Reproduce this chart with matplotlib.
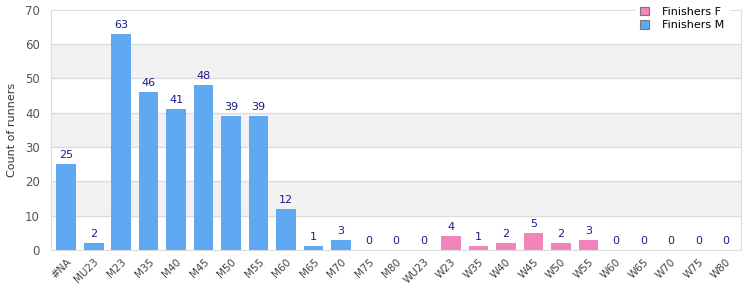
import matplotlib.pyplot as plt
import numpy as np

categories = ["#NA", "MU23", "M23", "M35", "M40", "M45", "M50", "M55", "M60", "M65",
              "M70", "M75", "M80", "WU23", "W23", "W35", "W40", "W45", "W50", "W55",
              "W60", "W65", "W70", "W75", "W80"]
finishers_m = [25, 2, 63, 46, 41, 48, 39, 39, 12, 1, 3, 0, 0, 0,
               0, 0, 0, 0, 0, 0, 0, 0, 0, 0, 0]
finishers_f = [0, 0, 0, 0, 0, 0, 0, 0, 0, 0, 0, 0, 0, 0,
               4, 1, 2, 5, 2, 3, 0, 0, 0, 0, 0]

BLUE = "#5fa8f2"
PINK = "#f184ba"
GRID = "#dcdcdc"

fig = plt.figure(figsize=(7.5, 3), dpi=100)
ax = fig.add_axes([0.068, 0.167, 0.92, 0.8])

x = np.arange(len(categories))
m = np.array(finishers_m)
f = np.array(finishers_f)

# alternating bands
for lo in range(10, 70, 20):
    ax.axhspan(lo, lo + 10, color="#f2f2f2", zorder=0, lw=0)
for yv in range(10, 70, 10):
    ax.axhline(yv, color=GRID, lw=1, zorder=0.5)

ax.bar(x, m, 0.72, color=BLUE, label="Finishers M", zorder=2)
ax.bar(x, f, 0.72, bottom=m, color=PINK, label="Finishers F", zorder=2)

total = m + f
for xi, t in zip(x, total):
    ax.text(xi, t + 1.2, str(t), ha="center", va="bottom", fontsize=8, color="#1c1c8a")

ax.set_xlim(-0.55, len(categories) - 0.45)
ax.set_ylim(0, 70)
ax.set_yticks(range(0, 71, 10))
ax.set_xticks(x)
ax.set_xticklabels(categories, rotation=45, ha="right", rotation_mode="anchor", fontsize=7.5, color="#444444")
ax.tick_params(axis="y", labelsize=8.5, colors="#555555", length=0, pad=8)
ax.tick_params(axis="x", length=0, pad=5)
ax.set_ylabel("Count of runners", fontsize=8, color="#333333", labelpad=6)

for s in ax.spines.values():
    s.set_color(GRID)

handles, labels = ax.get_legend_handles_labels()
leg = ax.legend(handles[::-1], labels[::-1], loc="upper right", bbox_to_anchor=(0.99, 1.055),
                fontsize=8, frameon=True, handlelength=0.8, handleheight=0.8,
                borderpad=0.4, labelspacing=0.3, handletextpad=1.2)
leg.get_frame().set_edgecolor("white")
leg.get_frame().set_facecolor("white")
leg.get_frame().set_alpha(1)
leg.get_frame().set_boxstyle("square", pad=0)
for h in leg.legend_handles:
    h.set_edgecolor("#777777")
    h.set_linewidth(0.8)
leg.set_zorder(5)

fig.savefig("out.png", dpi=100)
